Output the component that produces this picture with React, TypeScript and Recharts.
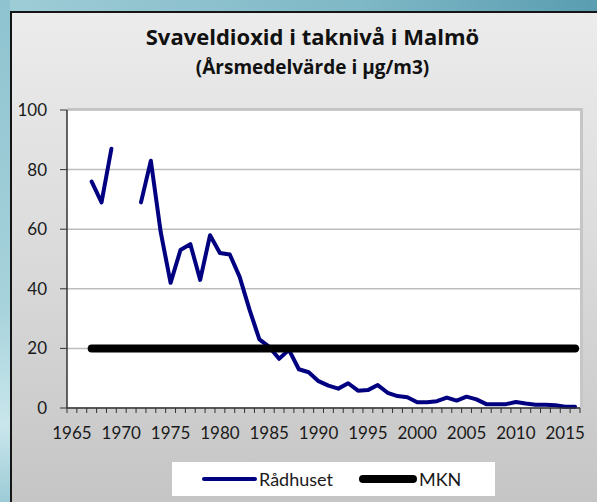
import React from 'react';
import { LineChart, Line, XAxis, YAxis, CartesianGrid, Legend } from 'recharts';

const years = [
  1965, 1966, 1967, 1968, 1969, 1970, 1971, 1972, 1973, 1974, 1975, 1976, 1977,
  1978, 1979, 1980, 1981, 1982, 1983, 1984, 1985, 1986, 1987, 1988, 1989, 1990,
  1991, 1992, 1993, 1994, 1995, 1996, 1997, 1998, 1999, 2000, 2001, 2002, 2003,
  2004, 2005, 2006, 2007, 2008, 2009, 2010, 2011, 2012, 2013, 2014, 2015, 2016,
];

const radhuset = [
  null, null, 76, 69, 87, null, null, 69, 83, 59, 42, 53, 55,
  43, 58, 52, 51.5, 44, 33, 23, 20.5, 16.5, 19.5, 13, 12, 9,
  7.5, 6.5, 8.3, 5.8, 6, 7.7, 5.1, 4, 3.6, 1.9, 1.9, 2.3, 3.5,
  2.5, 3.8, 2.9, 1.3, 1.3, 1.3, 2, 1.5, 1.1, 1.1, 0.9, 0.4, 0.4,
];

const mkn = [
  null, null, 20, 20, 20, 20, 20, 20, 20, 20, 20, 20, 20,
  20, 20, 20, 20, 20, 20, 20, 20, 20, 20, 20, 20, 20,
  20, 20, 20, 20, 20, 20, 20, 20, 20, 20, 20, 20, 20,
  20, 20, 20, 20, 20, 20, 20, 20, 20, 20, 20, 20, 20,
];

const yTicks = [0, 20, 40, 60, 80, 100];
const xLabelYears = [1965, 1970, 1975, 1980, 1985, 1990, 1995, 2000, 2005, 2010, 2015];

const seriesOrder = ['radhuset', 'mkn'];
const seriesNames = { radhuset: 'Rådhuset', mkn: 'MKN' };
const seriesColors = { radhuset: '#000080', mkn: '#000000' };

const data = years.map((year, i) => ({ year, radhuset: radhuset[i], mkn: mkn[i] }));
const xBoundaries = [...years.map((y) => y - 0.5), years[years.length - 1] + 0.5];

const FONT = 'Lato, "Open Sans", sans-serif';
const TITLE_FONT = '"Open Sans", Lato, sans-serif';
const PLOT_W = 513;
const HALF_STEP = PLOT_W / years.length / 2;

const XTick = (props: any) => {
  const { x, y, payload } = props;
  const yr = Math.round(payload.value + 0.5);
  if (!xLabelYears.includes(yr)) return <g />;
  return (
    <text x={x + HALF_STEP} y={y} dy={24} textAnchor="middle" fontSize={17} fontFamily={FONT} fill="#1a1a1a">
      {yr}
    </text>
  );
};

const renderLegend = (props: any) => {
  const payload = [...(props.payload || [])].sort(
    (a: any, b: any) => seriesOrder.indexOf(a.dataKey) - seriesOrder.indexOf(b.dataKey)
  );
  return (
    <div
      style={{
        background: '#fff',
        width: 323,
        height: 34,
        display: 'flex',
        alignItems: 'center',
        paddingLeft: 30,
        boxSizing: 'border-box',
        fontFamily: FONT,
        fontSize: 18,
        color: '#1a1a1a',
      }}
    >
      {payload.map((entry: any, idx: number) => {
        const thick = entry.dataKey === 'mkn';
        const w = thick ? 58 : 55;
        const sw = thick ? 8 : 4;
        return (
          <div key={idx} style={{ display: 'flex', alignItems: 'center', marginRight: 26 }}>
            <svg width={w} height={10} style={{ display: 'block' }}>
              <line x1={sw / 2} y1={5} x2={w - sw / 2} y2={5} stroke={entry.color} strokeWidth={sw} strokeLinecap="round" />
            </svg>
            <span style={{ marginLeft: 2, lineHeight: '20px' }}>{entry.value}</span>
          </div>
        );
      })}
    </div>
  );
};

export default function App() {
  return (
    <div
      style={{
        position: 'fixed',
        left: 0,
        top: 0,
        width: 597,
        height: 502,
        overflow: 'hidden',
        background: 'linear-gradient(90deg, #9fcdd7 0%, #7fb8c6 60%, #5a9db1 100%)',
      }}
    >
      <div
        style={{
          position: 'absolute',
          left: 0,
          top: 0,
          width: 10,
          height: 502,
          background: 'linear-gradient(180deg, #8ec3cf 0%, #a6d2db 60%, #c9e6ec 85%, #9ccbd6 100%)',
        }}
      />
      <div
        style={{
          position: 'absolute',
          left: 10,
          top: 11,
          width: 600,
          height: 500,
          borderLeft: '2px solid #151515',
          borderTop: '2px solid #151515',
          background: 'linear-gradient(180deg, #ececec 0%, #dcdcdc 45%, #c4c4c4 100%)',
        }}
      />
      <div
        style={{
          position: 'absolute',
          left: 67,
          top: 108,
          width: 516,
          height: 300,
          background: '#c6c6c6',
        }}
      />
      <div
        style={{
          position: 'absolute',
          left: 0,
          top: 21,
          width: 625,
          textAlign: 'center',
          fontFamily: TITLE_FONT,
          fontWeight: 'bold',
          fontSize: 22,
          color: '#111',
          lineHeight: '30px',
        }}
      >
        Svaveldioxid i taknivå i Malmö
      </div>
      <div
        style={{
          position: 'absolute',
          left: 0,
          top: 54,
          width: 625,
          textAlign: 'center',
          fontFamily: TITLE_FONT,
          fontWeight: 'bold',
          fontSize: 19,
          color: '#111',
          lineHeight: '26px',
        }}
      >
        (Årsmedelvärde i µg/m3)
      </div>
      <div style={{ position: 'absolute', left: 0, top: 0 }}>
        <LineChart
          width={597}
          height={502}
          data={data}
          margin={{ top: 110, right: 17, left: 0, bottom: 64 }}
        >
          <CartesianGrid vertical={false} stroke="#bdbdbd" strokeWidth={1.5} fill="#ffffff" />
          <XAxis
            dataKey="year"
            type="number"
            domain={[xBoundaries[0], xBoundaries[xBoundaries.length - 1]]}
            ticks={xBoundaries}
            interval={0}
            height={30}
            tickSize={5}
            tick={<XTick />}
            axisLine={{ stroke: '#333', strokeWidth: 1.5 }}
            tickLine={{ stroke: '#333' }}
          />
          <YAxis
            domain={[0, 100]}
            ticks={yTicks}
            width={67}
            tickSize={7}
            tickMargin={13}
            axisLine={{ stroke: '#333', strokeWidth: 1.5 }}
            tickLine={{ stroke: '#333' }}
            tick={{ fontSize: 17, fontFamily: FONT, fill: '#1a1a1a' }}
          />
          <Line
            dataKey="radhuset"
            name={seriesNames.radhuset}
            stroke={seriesColors.radhuset}
            strokeWidth={4}
            dot={false}
            activeDot={false}
            connectNulls={false}
            strokeLinejoin="round"
            strokeLinecap="round"
            isAnimationActive={false}
            type="linear"
          />
          <Line
            dataKey="mkn"
            name={seriesNames.mkn}
            stroke={seriesColors.mkn}
            strokeWidth={8}
            dot={false}
            activeDot={false}
            strokeLinecap="round"
            isAnimationActive={false}
            type="linear"
          />
          <Legend
            layout="horizontal"
            verticalAlign="middle"
            align="center"
            content={renderLegend}
            wrapperStyle={{ left: 172, top: 462, width: 323, height: 34 }}
          />
        </LineChart>
      </div>
    </div>
  );
}
